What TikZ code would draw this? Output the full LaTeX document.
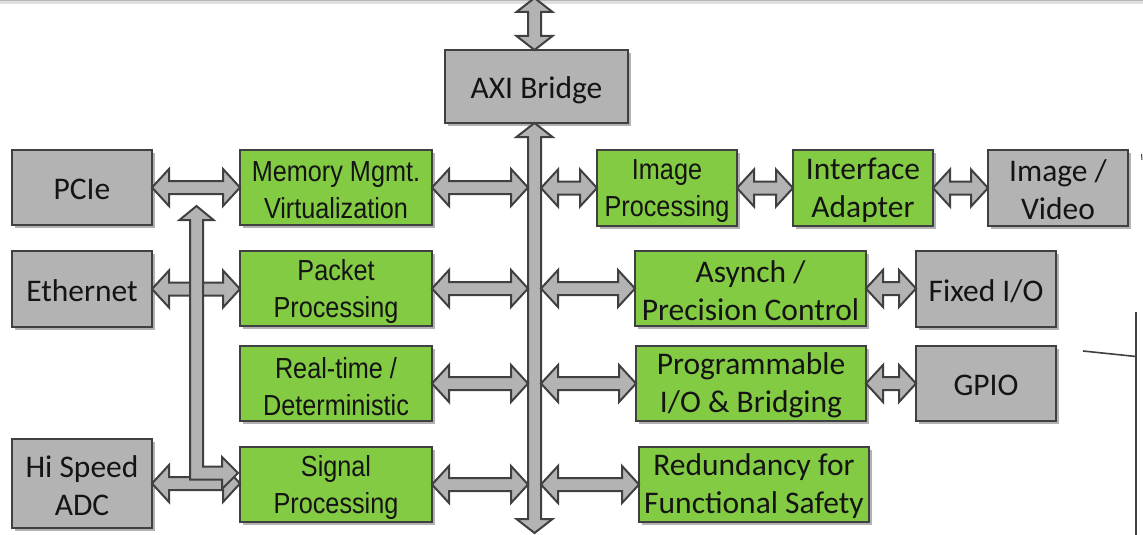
\documentclass[tikz,border=0pt]{standalone}
\usepackage{fontspec}
\setmainfont{Carlito}
\newfontfamily\narrowfont[FakeStretch=0.87]{Liberation Sans}
\usetikzlibrary{shadows,calc}
\definecolor{boxgrey}{HTML}{B3B3B3}
\definecolor{boxgreen}{HTML}{84CB44}
\definecolor{edgegrey}{HTML}{404040}
\definecolor{txtcol}{HTML}{141414}
% horizontal double fat arrow between two points (same height as first)
\newcommand\fatH[2]{\path[fat] let \p1=(#1), \p2=(#2) in
  (\x1,\y1) -- (\x1+17pt,\y1+18.5pt) -- (\x1+17pt,\y1+6.5pt) -- (\x2-17pt,\y1+6.5pt)
  -- (\x2-17pt,\y1+18.5pt) -- (\x2,\y1) -- (\x2-17pt,\y1-18.5pt) -- (\x2-17pt,\y1-6.5pt)
  -- (\x1+17pt,\y1-6.5pt) -- (\x1+17pt,\y1-18.5pt) -- cycle;}
% vertical double fat arrow (x of first point)
\newcommand\fatV[2]{\path[fat] let \p1=(#1), \p2=(#2) in
  (\x1,\y1) -- (\x1+18pt,\y1-14pt) -- (\x1+6.5pt,\y1-14pt) -- (\x1+6.5pt,\y2+14pt)
  -- (\x1+18pt,\y2+14pt) -- (\x1,\y2) -- (\x1-18pt,\y2+14pt) -- (\x1-6.5pt,\y2+14pt)
  -- (\x1-6.5pt,\y1-14pt) -- (\x1-18pt,\y1-14pt) -- cycle;}
\begin{document}
\begin{tikzpicture}[x=1pt,y=-1pt,
  box/.style={draw=edgegrey, line width=2.4pt, inner sep=0pt, outer sep=0pt,
    drop shadow={shadow xshift=3pt, shadow yshift=-3pt, opacity=0.3, fill=black}},
  gbox/.style={box, fill=boxgrey},
  grn/.style={box, fill=boxgreen},
  lbl/.style={align=center, text=txtcol, inner sep=0pt, yshift=-2pt,
    font=\fontsize{31.5}{38}\selectfont},
  lbln/.style={lbl, yshift=-1pt, font=\narrowfont\fontsize{29}{37}\selectfont},
  fat/.style={draw=edgegrey, fill=boxgrey, line width=2pt, line join=miter},
  artifact/.style={draw=edgegrey, line width=1.6pt}]
\useasboundingbox (0,0) rectangle (1143,535);
\clip (0,0) rectangle (1143,535);
\fill[white] (0,0) rectangle (1143,535);
\fill[black!28] (0,0) rectangle (1143,1.5);
\fill[black!12] (0,1.5) rectangle (1143,4);

% boxes
\node[gbox, minimum width=183pt, minimum height=73pt, label={[lbl, yshift=-1.5pt]center:{AXI Bridge}}] (axi) at (536.5,86.5) {};
\node[gbox, minimum width=140pt, minimum height=75pt, label={[lbl]center:{PCIe}}] (pcie) at (82,187.5) {};
\node[gbox, minimum width=140pt, minimum height=76pt, label={[lbl]center:{Ethernet}}] (eth) at (82,289) {};
\node[gbox, minimum width=140pt, minimum height=89pt, label={[lbl]center:{Hi Speed\\ADC}}] (adc) at (82,483.5) {};
\node[grn, minimum width=192pt, minimum height=75pt, label={[lbln]center:{Memory Mgmt.\\Virtualization}}] (mem) at (336,187.5) {};
\node[grn, minimum width=192pt, minimum height=75pt, label={[lbln]center:{Packet\\Processing}}] (pkt) at (336,288.5) {};
\node[grn, minimum width=192pt, minimum height=75pt, label={[lbln]center:{Real-time /\\Deterministic}}] (rt) at (336,383.5) {};
\node[grn, minimum width=192pt, minimum height=75pt, label={[lbln]center:{Signal\\Processing}}] (sig) at (336,484.5) {};
\node[grn, minimum width=140pt, minimum height=76pt, label={[lbln]center:{Image\\Processing}}] (img) at (667,188) {};
\node[grn, minimum width=140pt, minimum height=76pt, label={[lbl]center:{Interface\\Adapter}}] (ifa) at (863,188) {};
\node[gbox, minimum width=140pt, minimum height=76pt, label={[lbl]center:{Image /\\Video}}] (vid) at (1058,188) {};
\node[grn, minimum width=231pt, minimum height=75pt, label={[lbl]center:{Asynch /\\Precision Control}}] (asy) at (750.5,288.5) {};
\node[gbox, minimum width=140pt, minimum height=76pt, label={[lbl]center:{Fixed I/O}}] (fix) at (986,289) {};
\node[grn, minimum width=230pt, minimum height=75pt, label={[lbl]center:{Programmable\\I/O \& Bridging}}] (prg) at (751,383.5) {};
\node[gbox, minimum width=140pt, minimum height=75pt, label={[lbl]center:{GPIO}}] (gpio) at (986,383.5) {};
\node[grn, minimum width=230pt, minimum height=75pt, label={[lbl]center:{Redundancy for\\Functional Safety}}] (red) at (754,484.5) {};

% bus coordinates
\coordinate (bus) at (534.5,0);
\coordinate (busL) at (528,0);
\coordinate (busR) at (541,0);
\coordinate (busbot) at (534.5,533);
\coordinate (axitop) at (534.5,-2);

% vertical arrows
\fatV{axitop}{axi.north}
\fatV{axi.south -| bus}{busbot}

% left column arrows
\fatH{pcie.east}{mem.west}
\fatH{eth.east}{pkt.west}
\fatH{adc.east}{sig.west}

% L-shaped arrow
\coordinate (ltip) at (196.5,206);
\coordinate (lend) at ($(sig.west)+(-2,-11.5)$);
\path[fat] let \p1=(ltip), \p2=(lend) in
  (\x1,\y1) -- (\x1+17pt,\y1-14pt) -- (\x1+6.5pt,\y1-14pt) -- (\x1+6.5pt,\y2+6.5pt)
  -- (\x2-16pt,\y2+6.5pt) -- (\x2-16pt,\y2+16pt) -- (\x2,\y2) -- (\x2-16pt,\y2-16pt)
  -- (\x2-16pt,\y2-6.5pt) -- (\x1-6.5pt,\y2-6.5pt) -- (\x1-6.5pt,\y1-14pt)
  -- (\x1-17pt,\y1-14pt) -- cycle;

% to the bus
\fatH{mem.east}{mem.east -| busL}
\fatH{pkt.east}{pkt.east -| busL}
\fatH{rt.east}{rt.east -| busL}
\fatH{sig.east}{sig.east -| busL}
\fatH{busR |- img.west}{img.west}
\fatH{busR |- asy.west}{asy.west}
\fatH{busR |- prg.west}{prg.west}
\fatH{busR |- red.west}{red.west}

% right side chains
\fatH{img.east}{ifa.west}
\fatH{ifa.east}{vid.west}
\fatH{asy.east}{fix.west}
\fatH{prg.east}{gpio.west}

% edge fragments at the right border
\draw[artifact] (1136,312) -- (1136,535);
\draw[artifact] (1083,351) -- (1136,356.5);
\draw[edgegrey, line width=1pt] (1141.5,154) -- (1142,160);
\end{tikzpicture}
\end{document}
